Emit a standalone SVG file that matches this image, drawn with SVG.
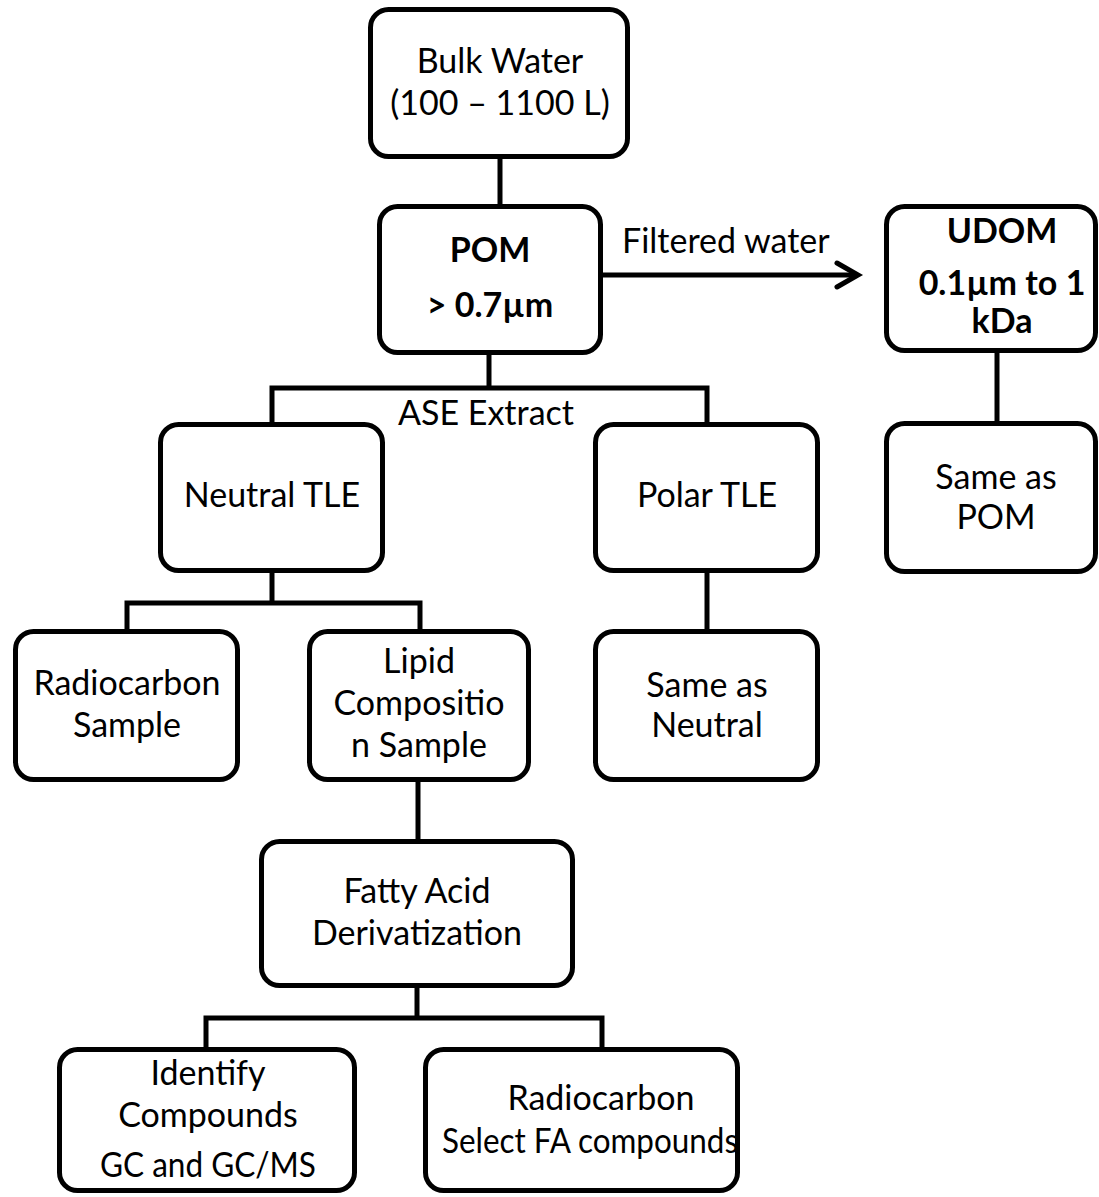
<svg xmlns="http://www.w3.org/2000/svg" width="1099" height="1197" viewBox="0 0 1099 1197">
  <style>
    .box { fill: #ffffff; stroke: #000000; stroke-width: 5; }
    .conn { fill: none; stroke: #000000; stroke-width: 5; stroke-linejoin: miter; }
    .t { font-family: Lato, "Liberation Sans", sans-serif; font-size: 34px; fill: #000000; text-anchor: middle; }
    .b { font-weight: bold; }
    .l { text-anchor: start; }
  </style>
  <rect width="1099" height="1197" fill="#ffffff"/>
  <g id="connectors">
    <path class="conn" d="M500 159 V206"/>
    <path class="conn" d="M489 353 V388"/>
    <path class="conn" d="M272 424 V388 H707 V424"/>
    <path class="conn" d="M603 275 H856"/>
    <path class="conn" d="M837 263 L858 275 L837 287" stroke-linecap="round" stroke-linejoin="round"/>
    <path class="conn" d="M997 351 V423"/>
    <path class="conn" d="M272 571 V603"/>
    <path class="conn" d="M127 631 V603 H420 V631"/>
    <path class="conn" d="M707 571 V631"/>
    <path class="conn" d="M418 780 V841"/>
    <path class="conn" d="M417 986 V1018"/>
    <path class="conn" d="M206 1049 V1018 H602 V1049"/>
  </g>
  <g id="edge-labels">
    <text class="t l" x="622" y="253">Filtered water</text>
    <text class="t l" x="398" y="425">ASE Extract</text>
  </g>
  <g id="bulk-water">
    <rect class="box" x="370.5" y="9.5" width="257" height="147" rx="18"/>
    <text class="t" x="500" y="73">Bulk Water</text>
    <text class="t" x="500" y="115">(100 – 1100 L)</text>
  </g>
  <g id="pom">
    <rect class="box" x="379.5" y="206.5" width="221" height="146" rx="18"/>
    <text class="t b" x="490" y="262">POM</text>
    <text class="t b" x="490" y="317">&gt; 0.7µm</text>
  </g>
  <g id="udom">
    <rect class="box" x="886.5" y="206.5" width="209" height="144" rx="18"/>
    <text class="t b" x="1002" y="243">UDOM</text>
    <text class="t b" x="1002" y="295">0.1µm to 1</text>
    <text class="t b" x="1002" y="333">kDa</text>
  </g>
  <g id="same-as-pom">
    <rect class="box" x="886.5" y="423.5" width="209" height="148" rx="18"/>
    <text class="t" x="996" y="489">Same as</text>
    <text class="t" x="996" y="529">POM</text>
  </g>
  <g id="neutral-tle">
    <rect class="box" x="160.5" y="424.5" width="222" height="146" rx="18"/>
    <text class="t" x="272" y="507">Neutral TLE</text>
  </g>
  <g id="polar-tle">
    <rect class="box" x="595.5" y="424.5" width="222" height="146" rx="18"/>
    <text class="t" x="707" y="507">Polar TLE</text>
  </g>
  <g id="radiocarbon-sample">
    <rect class="box" x="15.5" y="631.5" width="222" height="148" rx="18"/>
    <text class="t" x="127" y="695">Radiocarbon</text>
    <text class="t" x="127" y="737">Sample</text>
  </g>
  <g id="lipid-composition">
    <rect class="box" x="309.5" y="631.5" width="219" height="148" rx="18"/>
    <text class="t" x="419" y="673">Lipid</text>
    <text class="t" x="419" y="715">Compositio</text>
    <text class="t" x="419" y="757">n Sample</text>
  </g>
  <g id="same-as-neutral">
    <rect class="box" x="595.5" y="631.5" width="222" height="148" rx="18"/>
    <text class="t" x="707" y="697">Same as</text>
    <text class="t" x="707" y="737">Neutral</text>
  </g>
  <g id="fatty-acid">
    <rect class="box" x="261.5" y="841.5" width="311" height="144" rx="18"/>
    <text class="t" x="417" y="903">Fatty Acid</text>
    <text class="t" x="417" y="945">Derivatization</text>
  </g>
  <g id="identify-compounds">
    <rect class="box" x="59.5" y="1049.5" width="295" height="141" rx="18"/>
    <text class="t" x="208" y="1085">Identify</text>
    <text class="t" x="208" y="1127">Compounds</text>
    <text class="t" x="208" y="1177" textLength="216" lengthAdjust="spacingAndGlyphs">GC and GC/MS</text>
  </g>
  <g id="radiocarbon-select">
    <rect class="box" x="425.5" y="1049.5" width="312" height="141" rx="18"/>
    <text class="t" x="601" y="1110">Radiocarbon</text>
    <text class="t" x="590" y="1153" textLength="296" lengthAdjust="spacingAndGlyphs">Select FA compounds</text>
  </g>
</svg>
